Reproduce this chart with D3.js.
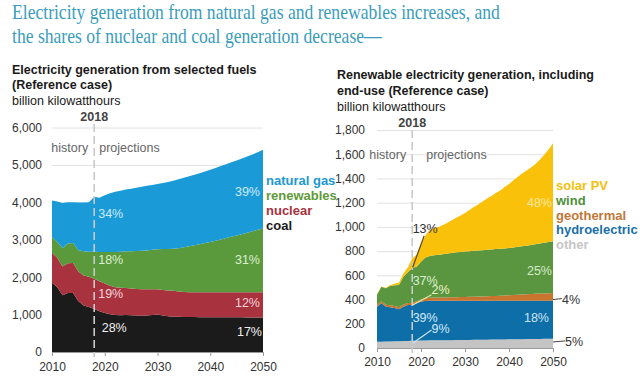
<!DOCTYPE html>
<html>
<head>
<meta charset="utf-8">
<script src="https://cdn.jsdelivr.net/npm/d3@7/dist/d3.min.js"></script>
<style>
  html, body { margin: 0; padding: 0; background: #fff; }
  svg { display: block; }
  text { font-family: "Liberation Sans", Arial, Helvetica, sans-serif; }
</style>
</head>
<body>
<svg id="chart" width="640" height="382"></svg>
<script>
// ---------------- DATA ----------------
const years = d3.range(2010, 2051);
const xTicks = [2010, 2020, 2030, 2040, 2050];

// Left chart: billion kWh
const coal = [1848,1730,1515,1580,1580,1355,1240,1205,1150,1090,
              1040,1010,990,985,990,985,975,970,975,990,
              1000,975,955,945,940,935,935,935,930,930,
              930,930,930,928,928,926,926,925,925,924,924];
const nuclear = [807,790,770,790,800,795,805,805,810,800,
                 790,760,740,730,720,715,710,705,700,690,
                 675,685,690,690,680,670,665,665,670,670,
                 670,670,670,672,672,674,674,675,675,676,676];
const renewables = [425,420,485,530,530,570,645,670,720,780,
                    840,900,945,965,980,995,1015,1030,1040,1050,
                    1070,1090,1110,1125,1155,1195,1225,1250,1280,1310,
                    1340,1375,1410,1445,1480,1515,1550,1590,1630,1665,1700];
const naturalGas = [970,1080,1215,1105,1090,1275,1305,1325,1470,1450,
                    1520,1570,1605,1630,1650,1670,1690,1710,1725,1735,
                    1745,1765,1790,1820,1845,1860,1875,1890,1900,1915,
                    1930,1945,1960,1975,1990,2005,2020,2035,2050,2075,2105];
const leftTicks = [0,1000,2000,3000,4000,5000,6000];
const leftKeys = ["coal","nuclear","renewables","naturalGas"];
const leftLegend = ["natural gas","renewables","nuclear","coal"];

// Right chart: billion kWh
const other = [52,52,53,54,55,56,57,58,60,60,
               61,62,63,63,64,64,65,65,66,66,
               67,67,68,68,69,69,70,70,71,71,
               72,72,73,73,74,74,75,75,76,76,77];
const hydroelectric = [289,317,288,282,275,264,284,298,295,309,
                       322,326,327,327,326,326,325,325,324,324,
                       323,323,322,322,321,321,320,320,319,319,
                       318,318,317,317,316,316,315,315,314,314,313];
const geothermal = [15,16,16,16,16,16,16,16,16,17,
                    18,21,25,26,27,28,29,30,30,31,
                    32,33,34,35,36,38,39,40,42,43,
                    45,47,49,51,53,55,57,59,61,63,65];
const wind = [84,120,136,160,172,184,232,253,289,284,
              311,339,345,349,353,357,361,365,370,372,
              374,376,378,380,382,383,385,387,388,389,
              390,393,396,399,402,406,410,414,418,423,427];
const solarPV = [5,3,4,8,12,20,26,40,80,100,
                 138,182,215,225,230,240,255,270,285,302,
                 319,341,363,380,402,424,441,463,480,508,
                 530,555,580,600,620,639,663,692,726,764,808];
const rightTicks = [0,200,400,600,800,1000,1200,1400,1600,1800];
const rightKeys = ["other","hydroelectric","geothermal","wind","solarPV"];
const rightLegend = ["solar PV","wind","geothermal","hydroelectric","other"];

// Share labels (text, value at label centre)
const leftShares2018 = [["34%",3690],["18%",2460],["19%",1575],["28%",665]];
const leftShares2050 = [["39%",4285],["31%",2477],["12%",1318],["17%",535]];
const rightShares2050 = [["48%",1200],["25%",644],["18%",248]];

// ---------------- STYLE ----------------
const leftColors = {coal:"#1c1b1b", nuclear:"#a8323e", renewables:"#5b9a3c", naturalGas:"#1b9ad8"};
const leftText = {"natural gas":"#1b98d4","renewables":"#5e9a3a","nuclear":"#a8323e","coal":"#1c1b1b"};
const rightColors = {other:"#c4c4c4", hydroelectric:"#0e6fa8", geothermal:"#c8742f", wind:"#5a9640", solarPV:"#f9c10a"};
const rightText = {"solar PV":"#f3c10e","wind":"#4f8f36","geothermal":"#c0773a","hydroelectric":"#1a6fa8","other":"#c6c6c6"};

const svg = d3.select("#chart");

// ---------------- HEADLINE ----------------
const head = svg.append("g");
const h1 = head.append("text").attr("x", 0).attr("y", 19)
  .style("font-family", '"Liberation Serif", "Times New Roman", serif')
  .style("font-size", "20px").attr("fill", "#3a9cbc")
  .text("Electricity generation from natural gas and renewables increases, and");
head.append("text").attr("x", 0).attr("y", 43)
  .style("font-family", '"Liberation Serif", "Times New Roman", serif')
  .style("font-size", "20px").attr("fill", "#3a9cbc")
  .text("the shares of nuclear and coal generation decrease\u2014");
const hs = 488 / h1.node().getComputedTextLength();
head.attr("transform", `translate(12,0) scale(${hs},1)`);

function panel(opts) {
  const g = svg.append("g");
  const x = d3.scaleLinear().domain([2010, 2050]).range(opts.xr);
  const y = d3.scaleLinear().domain(opts.yd).range(opts.yr);

  opts.titles.forEach((t, i) => {
    g.append("text").attr("x", opts.tx).attr("y", opts.ty[i])
      .style("font-size", "12.5px")
      .style("font-weight", t.bold ? "bold" : "normal")
      .attr("fill", "#1a1a1a").text(t.s);
  });

  const ya = g.append("g").attr("transform", `translate(${opts.xr[0]},0)`)
    .call(d3.axisLeft(y).tickValues(opts.ticks).tickFormat(d3.format(","))
      .tickSize(-(opts.xr[1] - opts.xr[0])).tickPadding(opts.pad));
  ya.select(".domain").remove();
  ya.selectAll(".tick line").attr("stroke", "#e2e2e2").attr("stroke-width", 1);
  ya.selectAll(".tick text").style("font-size", "12px").attr("fill", "#333")
    .style("font-family", '"Liberation Sans", Arial, sans-serif');

  const table = years.map((yr, i) => {
    const o = {year: yr};
    opts.keys.forEach(k => o[k] = opts.data[k][i]);
    return o;
  });
  const stack = d3.stack().keys(opts.keys)(table);
  const area = d3.area().x(d => x(d.data.year)).y0(d => y(d[0])).y1(d => y(d[1]));
  g.selectAll(".a").data(stack).enter().append("path")
    .attr("d", area).attr("fill", d => opts.colors[d.key]);

  const xa = g.append("g").attr("transform", `translate(0,${opts.yr[0]})`)
    .call(d3.axisBottom(x).tickValues(xTicks).tickFormat(d3.format("d"))
      .tickSize(4).tickPadding(opts.xpad));
  xa.select(".domain").attr("stroke", "#9a9a9a");
  xa.selectAll(".tick line").attr("stroke", "#9a9a9a");
  xa.selectAll(".tick text").style("font-size", "12px").attr("fill", "#333")
    .style("font-family", '"Liberation Sans", Arial, sans-serif');

  g.append("line").attr("x1", x(2018)).attr("x2", x(2018))
    .attr("y1", opts.dashTop).attr("y2", opts.yr[0] + 5)
    .attr("stroke", "#c9c9c9").attr("stroke-width", 1.6).attr("stroke-dasharray", "8,4");
  g.append("text").attr("x", x(2018)).attr("y", opts.y2018).attr("text-anchor", "middle")
    .style("font-size", "12.5px").style("font-weight", "bold").attr("fill", "#444").text("2018");
  g.append("text").attr("x", x(2018) - 6).attr("y", opts.yHist).attr("text-anchor", "end")
    .style("font-size", "12.5px").attr("fill", "#666").text("history");
  g.append("text").attr("x", x(2018) + opts.projOff).attr("y", opts.yHist)
    .style("font-size", "12.5px").attr("fill", "#666").text("projections");

  opts.legend.forEach((s, i) => {
    g.append("text").attr("x", x(2050) + 3).attr("y", opts.legY0 + i * opts.legDy)
      .style("font-size", "13px").style("font-weight", "bold")
      .attr("fill", opts.legColors[s]).text(s);
  });
  return {g, x, y};
}

// ---------------- LEFT PANEL ----------------
const L = panel({
  xr: [52, 263], yd: [0, 6000], yr: [352, 127.5], ticks: leftTicks, pad: 10, xpad: 6,
  tx: 12, ty: [74, 88.5, 104.5],
  titles: [{s:"Electricity generation from selected fuels", bold:true},
           {s:"(Reference case)", bold:true},
           {s:"billion kilowatthours", bold:false}],
  keys: leftKeys,
  data: {coal, nuclear, renewables, naturalGas},
  colors: leftColors,
  dashTop: 124, y2018: 121, yHist: 151.5, projOff: 5,
  legend: leftLegend, legColors: leftText, legY0: 184.5, legDy: 15
});
const leftShareColors = ["#cdeaf8","#dcefd3","#f3d3d8","#f0f0f0"];
leftShares2018.forEach((d, i) => {
  L.g.append("text").attr("x", L.x(2018) + (i === 3 ? 7.5 : 4)).attr("y", L.y(d[1]) + 4.5)
    .style("font-size", "12.5px").attr("fill", leftShareColors[i]).text(d[0]);
});
leftShares2050.forEach((d, i) => {
  L.g.append("text").attr("x", L.x(2050) - (i === 3 ? 1 : 3)).attr("y", L.y(d[1]) + 4.5)
    .attr("text-anchor", "end")
    .style("font-size", "12.5px").attr("fill", leftShareColors[i]).text(d[0]);
});

// ---------------- RIGHT PANEL ----------------
const R = panel({
  xr: [377, 553], yd: [0, 1800], yr: [348, 130], ticks: rightTicks, pad: 12, xpad: 5,
  tx: 337, ty: [79, 95, 110.5],
  titles: [{s:"Renewable electricity generation, including", bold:true},
           {s:"end-use (Reference case)", bold:true},
           {s:"billion kilowatthours", bold:false}],
  keys: rightKeys,
  data: {other, hydroelectric, geothermal, wind, solarPV},
  colors: rightColors,
  dashTop: 130, y2018: 127, yHist: 158.5, projOff: 14,
  legend: rightLegend, legColors: rightText, legY0: 190, legDy: 14.8
});
const rightShareColors = ["#fde7a0","#d5ebcb","#cde3f3"];
rightShares2050.forEach((d, i) => {
  R.g.append("text").attr("x", R.x(2050) - (i === 2 ? 4 : 1)).attr("y", R.y(d[1]) + 4.5)
    .attr("text-anchor", "end")
    .style("font-size", "12.5px").attr("fill", rightShareColors[i]).text(d[0]);
});
// 2018 shares with leaders: [text, label year, label value, leader from, leader to, text colour, line colour]
const rightShares2018 = [
  ["13%", 2018.1, 983, [2020.7, 925], [2018.1, 665], "#333", "#5a4a10"],
  ["37%", 2018.1, 561, null, null, "#d9f0d0", null],
  ["2%", 2022.4, 479, [2022.4, 440], [2018.1, 355], "#eef2c8", "#e9e6a6"],
  ["39%", 2018.1, 248, null, null, "#d2e8f7", null],
  ["9%", 2022.4, 165, [2022.4, 148], [2018.1, 40], "#d2e8f7", "#cfe4f4"]
];
rightShares2018.forEach(d => {
  if (d[3]) {
    R.g.append("line").attr("x1", R.x(d[3][0])).attr("y1", R.y(d[3][1]))
      .attr("x2", R.x(d[4][0])).attr("y2", R.y(d[4][1]))
      .attr("stroke", d[6]).attr("stroke-width", 1.2);
  }
  R.g.append("text").attr("x", R.x(d[1])).attr("y", R.y(d[2]) + 4.5)
    .style("font-size", "12.5px").attr("fill", d[5]).text(d[0]);
});
[["4%", 400], ["5%", 50]].forEach((d, i) => {
  R.g.append("line").attr("x1", R.x(2050)).attr("y1", R.y(d[1]))
    .attr("x2", R.x(2050) + (i === 0 ? 9 : 12)).attr("y2", R.y(d[1]) - 1)
    .attr("stroke", "#444").attr("stroke-width", 1);
  R.g.append("text").attr("x", R.x(2050) + (i === 0 ? 9 : 12)).attr("y", R.y(d[1]) + 4)
    .style("font-size", "12.5px").attr("fill", "#333").text(d[0]);
});
</script>
</body>
</html>
